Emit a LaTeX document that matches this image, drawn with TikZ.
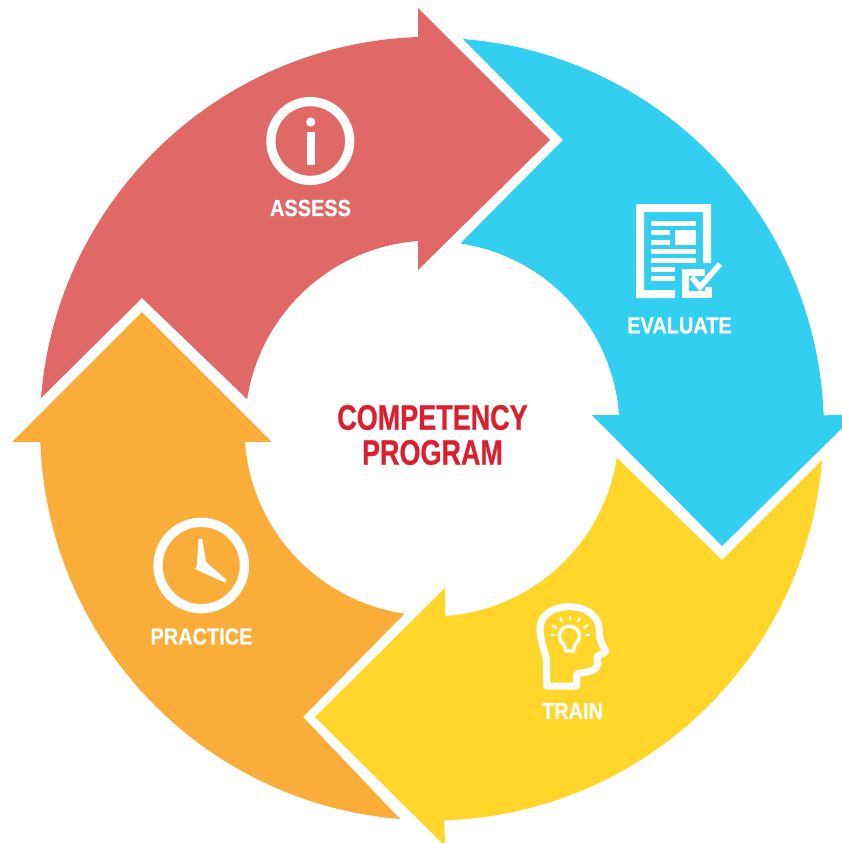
\documentclass[tikz,border=0pt]{standalone}
\usepackage{fontspec}
\setmainfont{Liberation Sans}
\newfontfamily\labfont[FakeStretch=0.86,FakeBold=0.6]{Liberation Sans Bold}
\newfontfamily\titlefont[FakeStretch=0.76,FakeBold=0.6]{Liberation Sans Bold}
\definecolor{cred}{HTML}{E06967}
\definecolor{cblue}{HTML}{32CFF0}
\definecolor{cyellow}{HTML}{FFD629}
\definecolor{corange}{HTML}{FAAD38}
\definecolor{ctitle}{HTML}{DC1F2E}
\tikzset{
  steplabel/.style={text=white,font=\labfont\fontsize{23.2}{26}\selectfont,inner sep=0pt},
  titlelabel/.style={text=ctitle,font=\titlefont\fontsize{35.5}{35}\selectfont,align=center,inner sep=0pt},
  iconline/.style={draw=white,line cap=butt,line join=miter},
  zoomA/.style={x=0.33333pt,y=-0.33333pt}
}
\begin{document}
\begin{tikzpicture}[x=1pt,y=-1pt]
\path[fill=white] (0,0) rectangle (842,843);
\useasboundingbox (0,0) rectangle (842,843);
\clip (0,0) rectangle (842,843);
% arrows
\fill[cred] (41,398) arc[start angle=175.5,end angle=92,radius=392pt] -- (418,8) -- (550,140) -- (418,270) -- (418,241)
  arc[start angle=94.3,end angle=171.3,radius=187pt] -- (142,298) -- cycle;
\fill[cblue] (463,39) arc[start angle=85.45,end angle=2.1,radius=392pt] -- (856,414.5) -- (722,546) -- (592,415) -- (619,415)
  arc[start angle=4.1,end angle=81.4,radius=187pt] -- (563,140) -- cycle;
\fill[cyellow] (822,460) arc[start angle=-4.6,end angle=-88.1,radius=392pt] -- (445,846) -- (315,717) -- (445,588) -- (445,616)
  arc[start angle=-86,end angle=-8.7,radius=187pt] -- (722,560) -- cycle;
\fill[corange] (400,819) arc[start angle=-94.7,end angle=-178,radius=392pt] -- (12,442) -- (142,312) -- (272,442) -- (245,442)
  arc[start angle=184.1,end angle=261.7,radius=187pt] -- (303,717) -- cycle;
% assess icon
\draw[iconline,line width=9.2pt] (310.3,141) circle[radius=39.4pt];
\fill[white] (310.7,122) circle[radius=4.6pt];
\fill[white] (307,132) rectangle (315,165);
% evaluate icon
\fill[white] (636,204) -- (711,204) -- (711,263) -- (703,263) -- (703,212) -- (644,212) -- (644,290) -- (675,290) -- (675,298) -- (636,298) -- cycle;
\foreach \a/\b/\c/\d in {651/221/696/225.7,651/230/670/235,651/240/670/245,675/230/696/245,651/249/696/254,651/258/696/263,651/267.3/675/271.7,651/276/675/281}
  \fill[white] (\a,\b) rectangle (\c,\d);
\draw[iconline,line width=6.4pt] (705,272.3) -- (685.6,272.3) -- (685.6,294.6) -- (708.6,294.6) -- (708.6,286.5);
\draw[iconline,line width=5.6pt] (691.7,277.3) -- (700,287) -- (720,264);
% train icon
\begin{scope}[shift={(520,590)},zoomA]
\draw[iconline,line width=7pt,line join=round]
  (170,288) -- (80,288) -- (80,220) .. controls (80,190) and (60,160) .. (60,115)
  .. controls (60,75) and (100,50) .. (148,50)
  .. controls (205,50) and (238,85) .. (238,120)
  .. controls (238,145) and (240,155) .. (258,183)
  .. controls (250,197) and (225,190) .. (232,208)
  .. controls (240,222) and (225,245) .. (205,245)
  -- (170,252) -- cycle;
\draw[iconline,line width=3.4pt] (131,163) arc[start angle=235,end angle=-55,radius=10pt] -- (160,183) -- (138,183) -- cycle;
\foreach \a/\b/\c/\d in {93/135/107/135,97/107/110/114,120/83/126/95,150/77/150/91,180/83/174/95,204/105/191/113,195/135/209/135}
  \draw[iconline,line width=2.4pt] (\a,\b) -- (\c,\d);
\end{scope}
% practice icon
\draw[iconline,line width=9.3pt] (201.2,565.5) circle[radius=43.2pt];
\begin{scope}[shift={(140,505)},zoomA]
\fill[white] (176,102) -- (187,102) -- (199,172) -- (260,225) -- (255,233) -- (165,192) -- (170,185) -- cycle;
\end{scope}
% labels
\node[steplabel] (assess) at (310.5,208) {ASSESS};
\node[steplabel] (evaluate) at (679.5,325.5) {EVALUATE};
\node[steplabel] (train) at (572.5,711) {TRAIN};
\node[steplabel] (practice) at (201.5,636.5) {PRACTICE};
\node[titlelabel] (title) at (432.5,435) {COMPETENCY\\PROGRAM};
\end{tikzpicture}
\end{document}
